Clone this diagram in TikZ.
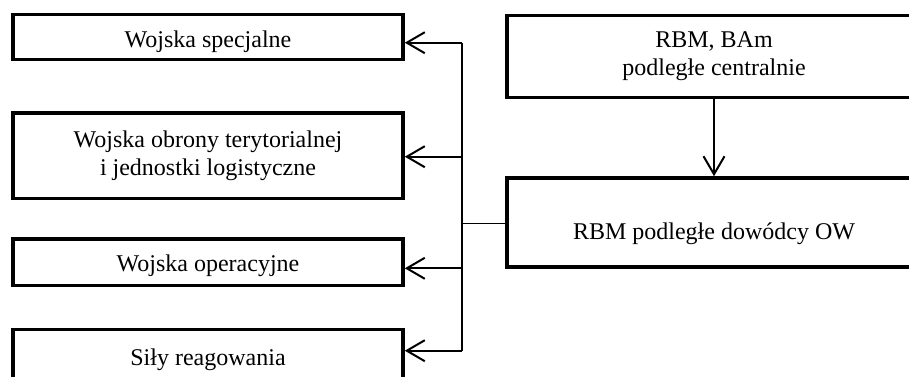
\documentclass[tikz,border=0pt]{standalone}
\usepackage{fontspec}
\setmainfont{Liberation Serif}
\usepackage{tikz}
\usetikzlibrary{arrows.meta}
\usetikzlibrary{positioning}
\tikzset{box/.style = {draw, line width = 1.8pt, inner sep = 0, align = center, font = \fontsize{12}{14}\selectfont}}
\tikzset{lbox/.style = {box, minimum width = 195pt}}
\tikzset{rbox/.style = {box, minimum width = 207pt}}
\tikzset{arr/.style = {-{Straight Barb[length = 9pt, width = 10.5pt]}, line width = 1pt}}
\tikzset{trunk/.style = {line width = 0.6pt}}

\begin{document}
\begin{tikzpicture}[x = 0.5pt, y = -0.5pt]
    \useasboundingbox (0, 0) rectangle (909, 376);
    \node [lbox, minimum height = 22.4pt, text height = 12pt, text depth = 1.5pt] (spec) at (208, 37) {Wojska specjalne};
    \node [lbox, minimum height = 42.75pt] (wot) at (208, 155.7) {Wojska obrony terytorialnej\\i jednostki logistyczne};
    \node [lbox, minimum height = 23.3pt, text height = 10.5pt, text depth = 1.5pt] (oper) at (208, 262) {Wojska operacyjne};
    \node [lbox, minimum height = 25pt, text height = 12.8pt, text depth = 1.5pt] (reag) at (208, 354.3) {Siły reagowania};
    \node [rbox, minimum height = 41pt] (rbmc) at (714, 56.4) {RBM, BAm\\podległe centralnie};
    \node [rbox, minimum height = 44.5pt, text height = 18pt, text depth = 1.5pt] (rbmow) at (714, 222.5) {RBM podległe dowódcy OW};
    \coordinate (t1) at (462, 42.7);
    \coordinate (t2) at (462, 156.7);
    \coordinate (t3) at (462, 268.3);
    \coordinate (t4) at (462, 350.7);
    \coordinate (tm) at (462, 223.3);
    \draw [trunk] (t1) -- (t4);
    \draw [trunk] (tm) -- (tm -| rbmow.west);
    \draw [arr] (t1) -- (t1 -| spec.east);
    \draw [arr] (t2) -- (t2 -| wot.east);
    \draw [arr] (t3) -- (t3 -| oper.east);
    \draw [arr] (t4) -- (t4 -| reag.east);
    \draw [arr] (rbmc.south) -- (rbmow.north);
\end{tikzpicture}
\end{document}
